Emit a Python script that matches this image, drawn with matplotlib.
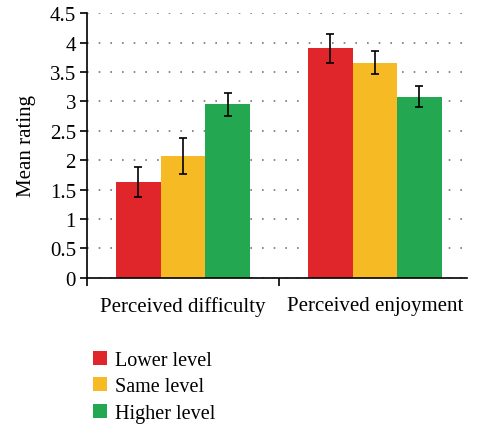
import numpy as np
import matplotlib.pyplot as plt

plt.rcParams['font.family'] = ['Liberation Serif', 'DejaVu Serif']

categories = ['Perceived difficulty', 'Perceived enjoyment']
groups = ['Lower level', 'Same level', 'Higher level']
means = {
    'Lower level': [1.63, 3.90],
    'Same level': [2.07, 3.66],
    'Higher level': [2.95, 3.08],
}
errors = {
    'Lower level': [0.25, 0.25],
    'Same level': [0.30, 0.20],
    'Higher level': [0.20, 0.18],
}
colors = ['#e1262b', '#f6bb24', '#23a851']

fig = plt.figure(figsize=(4.81, 4.27), dpi=100)
ax = fig.add_axes([0.181, 0.347, 0.79, 0.62])

x = np.arange(len(categories))
width = 0.232
for i, (g, c) in enumerate(zip(groups, colors)):
    ax.bar(x + (i - 1) * width, means[g], width, color=c, label=g, zorder=2,
           yerr=errors[g], error_kw=dict(ecolor='black', elinewidth=1.2, capsize=3, capthick=1.2, zorder=3))

ax.set_xlim(-0.5, 1.48)
ax.set_ylim(0, 4.5)
ax.set_yticks(np.arange(0, 4.51, 0.5))
ax.set_yticklabels(['0', '0.5', '1', '1.5', '2', '2.5', '3', '3.5', '4', '4.5'], fontsize=15)
ax.set_xticks(x)
ax.set_xticklabels(categories, fontsize=15)
ax.set_xticks([-0.5, 0.5], minor=True)
ax.tick_params(axis='x', which='major', length=0, pad=13)
ax.tick_params(axis='x', which='minor', length=6, width=1.2, direction='out')
ax.tick_params(axis='y', length=5, width=1.2, direction='out', pad=3)
ax.set_ylabel('Mean rating', fontsize=15, labelpad=10)

ax.yaxis.grid(True, color='#777777', linewidth=1.2, linestyle=(0, (1, 6)), zorder=0)
ax.set_axisbelow(True)
for s in ['top', 'right']:
    ax.spines[s].set_visible(False)
for s in ['left', 'bottom']:
    ax.spines[s].set_linewidth(1.2)

fig.legend(loc='upper left', bbox_to_anchor=(0.155, 0.219), frameon=False, fontsize=14.5,
           handlelength=0.7, handleheight=0.7, handletextpad=0.4, labelspacing=0.38)

fig.savefig('out.png', dpi=100)
